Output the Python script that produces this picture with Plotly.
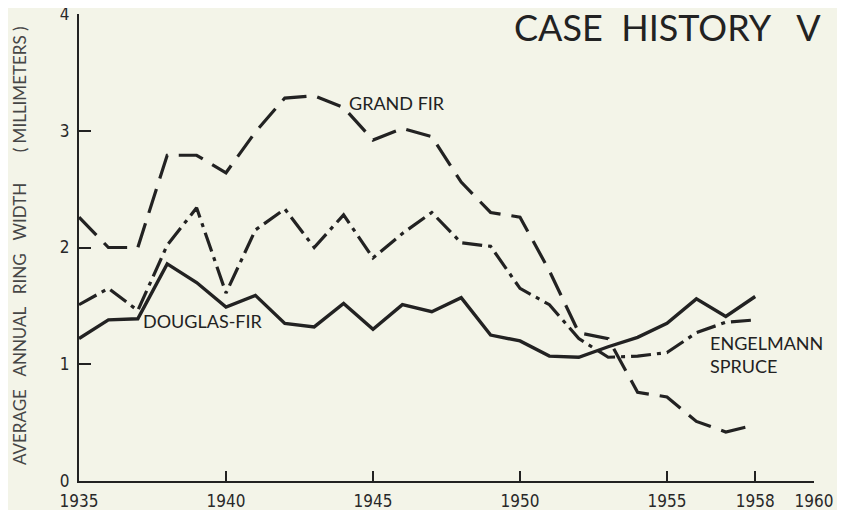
import plotly.graph_objects as go

# ===============================
# data
# ===============================
years = list(range(1935, 1959))

douglas_fir = [1.22, 1.38, 1.39, 1.86, 1.70, 1.49, 1.59, 1.35, 1.32, 1.52, 1.30, 1.51,
               1.45, 1.57, 1.25, 1.20, 1.07, 1.06, 1.15, 1.23, 1.35, 1.56, 1.41, 1.58]
grand_fir = [2.26, 2.00, 2.00, 2.79, 2.79, 2.64, 2.99, 3.28, 3.30, 3.20, 2.92, 3.02,
             2.95, 2.56, 2.30, 2.26, 1.80, 1.27, 1.22, 0.76, 0.72, 0.51, 0.42, 0.48]
engelmann_spruce = [1.51, 1.65, 1.46, 2.02, 2.34, 1.61, 2.15, 2.33, 2.00, 2.28, 1.91, 2.12,
                    2.30, 2.04, 2.01, 1.65, 1.51, 1.22, 1.06, 1.07, 1.10, 1.27, 1.36, 1.38]

x_ticks = [1935, 1940, 1945, 1950, 1955, 1958, 1960]
y_ticks = [0, 1, 2, 3, 4]

INK = "rgb(34,34,34)"
PAPER = "rgb(243,244,232)"
TICK_FONT = dict(family="DejaVu Sans Condensed, Liberation Sans Narrow, Arial Narrow, sans-serif",
                 size=17, color="rgb(40,40,40)")
LABEL_FONT = dict(family="Lato, Open Sans, sans-serif", size=18, color=INK)

fig = go.Figure()
fig.add_trace(go.Scatter(x=years, y=grand_fir, mode="lines", name="Grand fir",
                         line=dict(color=INK, width=3.2, dash="25px,11px")))
fig.add_trace(go.Scatter(x=years, y=engelmann_spruce, mode="lines", name="Engelmann spruce",
                         line=dict(color=INK, width=3.2, dash="20px,6px,4px,6px")))
fig.add_trace(go.Scatter(x=years, y=douglas_fir, mode="lines", name="Douglas-fir",
                         line=dict(color=INK, width=3.4)))

# series labels
fig.add_annotation(x=1944.1, y=3.24, text="GRAND FIR", showarrow=False,
                   xanchor="left", yanchor="middle", font=LABEL_FONT)
fig.add_annotation(x=1937.1, y=1.37, text="DOUGLAS-FIR", showarrow=False,
                   xanchor="left", yanchor="middle", font=LABEL_FONT)
fig.add_annotation(x=1956.4, y=1.08, text="ENGELMANN<br>SPRUCE", showarrow=False,
                   xanchor="left", yanchor="middle", align="left", font=LABEL_FONT)

# title and y-axis caption
fig.add_annotation(x=1, y=1, xref="paper", yref="paper", xshift=9, yshift=11,
                   text="CASE  HISTORY   V", showarrow=False,
                   xanchor="right", yanchor="top",
                   font=dict(family="Lato, Open Sans, sans-serif", size=36, color=INK))
fig.add_annotation(x=0, y=0.503, xref="paper", yref="paper", xshift=-60,
                   text="AVERAGE   ANNUAL   RING   WIDTH       ( MILLIMETERS )",
                   textangle=-90, showarrow=False, xanchor="center", yanchor="middle",
                   font=dict(family="Lato, Open Sans, sans-serif", size=17,
                             color="rgb(70,70,70)"))

# the page body adds an 8px margin, so the figure is 8px smaller each way
fig.update_layout(
    width=837,
    height=502,
    showlegend=False,
    paper_bgcolor=PAPER,
    plot_bgcolor=PAPER,
    margin=dict(l=71, r=31, t=6, b=29, autoexpand=False),
    xaxis=dict(
        range=[1935, 1960],
        tickvals=x_ticks,
        ticks="inside",
        ticklen=10,
        tickwidth=2,
        tickcolor=INK,
        ticklabelstandoff=4,
        ticklabeloverflow="allow",
        showline=True,
        linecolor=INK,
        linewidth=2,
        showgrid=False,
        zeroline=False,
        tickfont=TICK_FONT,
    ),
    yaxis=dict(
        range=[0, 4],
        tickvals=y_ticks,
        ticks="inside",
        ticklen=12,
        tickwidth=2,
        tickcolor=INK,
        ticklabelstandoff=4,
        ticklabeloverflow="allow",
        showline=True,
        linecolor=INK,
        linewidth=2,
        showgrid=False,
        zeroline=False,
        tickfont=TICK_FONT,
    ),
)

fig.write_html("out.html")
